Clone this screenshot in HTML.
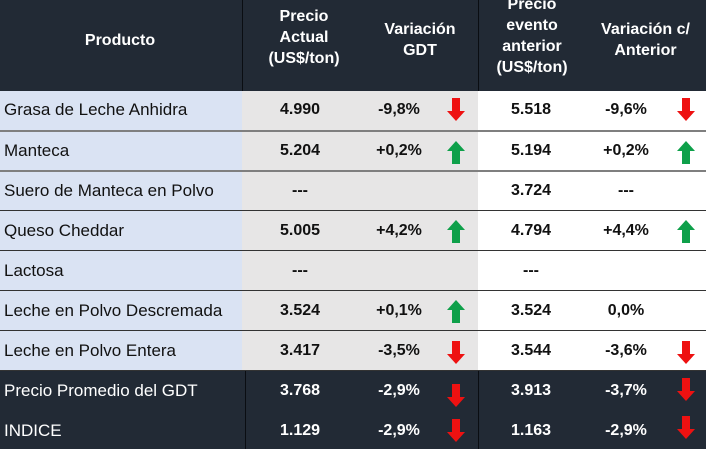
<!DOCTYPE html>
<html><head><meta charset="utf-8"><style>
*{margin:0;padding:0;box-sizing:border-box}
body{width:706px;height:449px;overflow:hidden;background:#fff;font-family:"Liberation Sans Narrow","Liberation Sans",sans-serif;position:relative}
.a{position:absolute}
.h{color:#fff;font-weight:bold;font-size:16px;text-align:center;line-height:21px}
.p{font-size:17px;color:#111;left:4px;white-space:nowrap}
.v{font-weight:bold;font-size:16px;color:#111;text-align:center;width:80px}
.w{color:#fff}
</style></head><body>
<div class="a" style="left:0;top:0;width:706px;height:91px;background:#222a35"></div>
<div class="a" style="left:0;top:91px;width:242px;height:280px;background:#dae3f3"></div>
<div class="a" style="left:242px;top:91px;width:236px;height:280px;background:#e7e6e6"></div>
<div class="a" style="left:0;top:371px;width:706px;height:78px;background:#222a35"></div>
<div class="a" style="left:242px;top:0;width:1px;height:91px;background:#0a0d12"></div>
<div class="a" style="left:478px;top:0;width:1px;height:91px;background:#0a0d12"></div>
<div class="a" style="left:245px;top:371px;width:1px;height:78px;background:#0a0d12"></div>
<div class="a" style="left:478px;top:371px;width:1px;height:78px;background:#0a0d12"></div>
<div class="a" style="left:0;top:130px;width:706px;height:2px;background:#7f7f7f"></div>
<div class="a" style="left:0;top:170px;width:706px;height:2px;background:#7f7f7f"></div>
<div class="a" style="left:0;top:210px;width:706px;height:1px;background:#333"></div>
<div class="a" style="left:0;top:250px;width:706px;height:1px;background:#333"></div>
<div class="a" style="left:0;top:290px;width:706px;height:1px;background:#333"></div>
<div class="a" style="left:0;top:330px;width:706px;height:1px;background:#333"></div>
<div class="a" style="left:0;top:370px;width:706px;height:1px;background:#333"></div>

<div class="a h" style="left:0;top:30px;width:240px">Producto</div>
<div class="a h" style="left:254px;top:6px;width:100px">Precio<br>Actual<br>(US$/ton)</div>
<div class="a h" style="left:365px;top:19px;width:110px">Variación<br>GDT</div>
<div class="a h" style="left:482px;top:-6px;width:100px">Precio<br>evento<br>anterior<br>(US$/ton)</div>
<div class="a h" style="left:585px;top:19px;width:121px">Variación c/<br>Anterior</div>

<svg width="0" height="0" style="position:absolute"><defs>
<g id="dn"><polygon points="4,0 12,0 12,13 17,13 8,23 -1,13 4,13" fill="#ee1111"/></g>
<g id="up"><polygon points="8,0 17,10 12,10 12,23 4,23 4,10 -1,10" fill="#0ea04a"/></g>
</defs></svg>
<svg class="a" style="left:0;top:0" width="706" height="449">
<use href="#dn" x="448" y="98"/><use href="#dn" x="678" y="98"/>
<use href="#up" x="448" y="141"/><use href="#up" x="678" y="141"/>
<use href="#up" x="448" y="220"/><use href="#up" x="678" y="220"/>
<use href="#up" x="448" y="300"/>
<use href="#dn" x="448" y="341"/><use href="#dn" x="678" y="341"/>
<use href="#dn" x="448" y="384"/><use href="#dn" x="678" y="378"/>
<use href="#dn" x="448" y="419"/><use href="#dn" x="678" y="416"/>
</svg>

<div class="a p" style="top:100px">Grasa de Leche Anhidra</div>
<div class="a p" style="top:141px">Manteca</div>
<div class="a p" style="top:181px">Suero de Manteca en Polvo</div>
<div class="a p" style="top:221px">Queso Cheddar</div>
<div class="a p" style="top:261px">Lactosa</div>
<div class="a p" style="top:301px">Leche en Polvo Descremada</div>
<div class="a p" style="top:341px">Leche en Polvo Entera</div>
<div class="a p w" style="top:381px">Precio Promedio del GDT</div>
<div class="a p w" style="top:421px">INDICE</div>

<div class="a v" style="left:260px;top:101px">4.990</div><div class="a v" style="left:359px;top:101px">-9,8%</div><div class="a v" style="left:491px;top:101px">5.518</div><div class="a v" style="left:586px;top:101px">-9,6%</div>
<div class="a v" style="left:260px;top:142px">5.204</div><div class="a v" style="left:359px;top:142px">+0,2%</div><div class="a v" style="left:491px;top:142px">5.194</div><div class="a v" style="left:586px;top:142px">+0,2%</div>
<div class="a v" style="left:260px;top:182px">---</div><div class="a v" style="left:491px;top:182px">3.724</div><div class="a v" style="left:586px;top:182px">---</div>
<div class="a v" style="left:260px;top:222px">5.005</div><div class="a v" style="left:359px;top:222px">+4,2%</div><div class="a v" style="left:491px;top:222px">4.794</div><div class="a v" style="left:586px;top:222px">+4,4%</div>
<div class="a v" style="left:260px;top:262px">---</div><div class="a v" style="left:491px;top:262px">---</div>
<div class="a v" style="left:260px;top:302px">3.524</div><div class="a v" style="left:359px;top:302px">+0,1%</div><div class="a v" style="left:491px;top:302px">3.524</div><div class="a v" style="left:586px;top:302px">0,0%</div>
<div class="a v" style="left:260px;top:342px">3.417</div><div class="a v" style="left:359px;top:342px">-3,5%</div><div class="a v" style="left:491px;top:342px">3.544</div><div class="a v" style="left:586px;top:342px">-3,6%</div>
<div class="a v w" style="left:260px;top:382px">3.768</div><div class="a v w" style="left:359px;top:382px">-2,9%</div><div class="a v w" style="left:491px;top:382px">3.913</div><div class="a v w" style="left:586px;top:382px">-3,7%</div>
<div class="a v w" style="left:260px;top:422px">1.129</div><div class="a v w" style="left:359px;top:422px">-2,9%</div><div class="a v w" style="left:491px;top:422px">1.163</div><div class="a v w" style="left:586px;top:422px">-2,9%</div>
</body></html>
